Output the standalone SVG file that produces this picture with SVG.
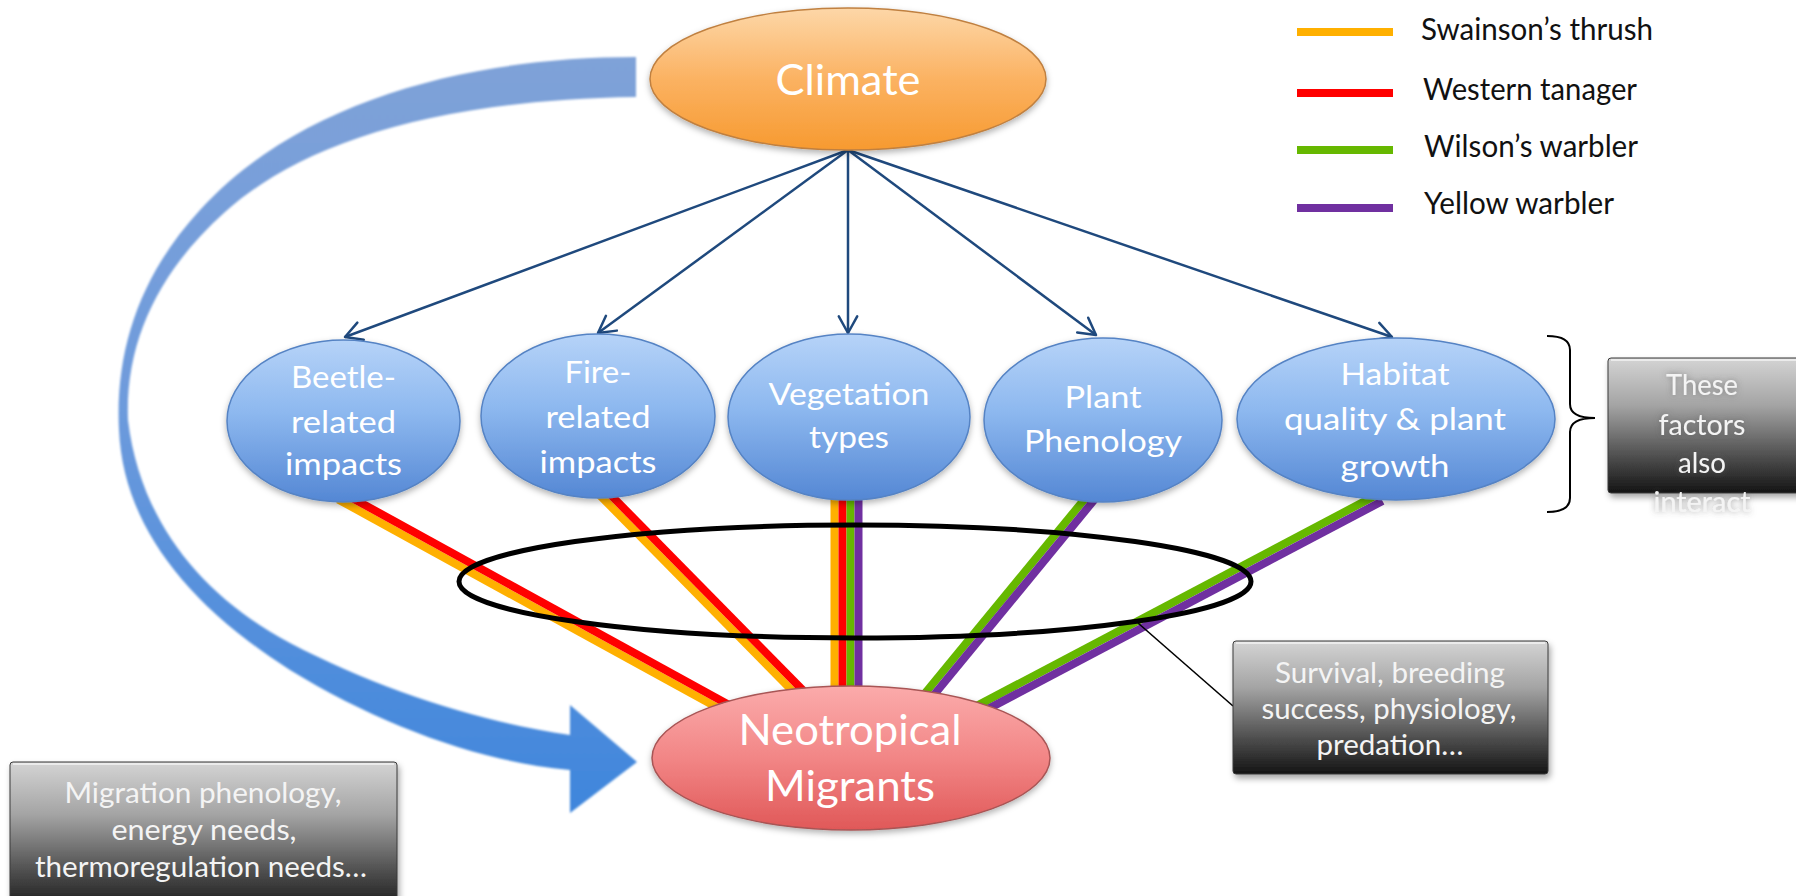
<svg xmlns="http://www.w3.org/2000/svg" width="1796" height="896" viewBox="0 0 1796 896">
  <style>
    text { font-family: Lato, "Open Sans", "Liberation Sans", sans-serif; }
    .nodeText { fill: #ffffff; font-size: 31px; text-anchor: middle; }
    .bigText { fill: #ffffff; font-size: 42px; text-anchor: middle; }
    .legendText { fill: #111111; font-size: 30px; }
    .boxText { fill: #f4f4f4; font-size: 28px; text-anchor: middle; }
    .blueNode { fill: url(#gBlue); stroke: #5583c4; stroke-width: 1.5; filter: url(#shadow); }
    .influence { stroke: #1f497d; stroke-width: 2.5; fill: none; marker-end: url(#openArrow); }
    .sp { stroke-width: 8; fill: none; stroke-linecap: butt; }
    .orange { stroke: #ffb000; }
    .red { stroke: #ff0000; }
    .green { stroke: #66b800; }
    .purple { stroke: #7030a0; }
    .greyBox { fill: url(#gGrey); stroke: #3a3a3a; stroke-width: 1; filter: url(#boxShadow); }
  </style>
  <defs>
    <linearGradient id="gBlue" x1="0" y1="0" x2="0" y2="1">
      <stop offset="0" stop-color="#b6d3f8"/>
      <stop offset="0.45" stop-color="#8db8ef"/>
      <stop offset="1" stop-color="#5487d4"/>
    </linearGradient>
    <linearGradient id="gOrange" x1="0" y1="0" x2="0" y2="1">
      <stop offset="0" stop-color="#fdd7a8"/>
      <stop offset="0.5" stop-color="#fbb262"/>
      <stop offset="1" stop-color="#f79a30"/>
    </linearGradient>
    <linearGradient id="gPink" x1="0" y1="0" x2="0" y2="1">
      <stop offset="0" stop-color="#fbabab"/>
      <stop offset="0.5" stop-color="#f28686"/>
      <stop offset="1" stop-color="#e05858"/>
    </linearGradient>
    <linearGradient id="gGrey" x1="0" y1="0" x2="0" y2="1">
      <stop offset="0" stop-color="#d4d4d4"/>
      <stop offset="0.35" stop-color="#a4a4a4"/>
      <stop offset="0.75" stop-color="#4a4a4a"/>
      <stop offset="1" stop-color="#141414"/>
    </linearGradient>
    <linearGradient id="gSweep" gradientUnits="userSpaceOnUse" x1="0" y1="57" x2="0" y2="813">
      <stop offset="0" stop-color="#7fa2d8"/>
      <stop offset="0.45" stop-color="#6e9bdc"/>
      <stop offset="1" stop-color="#3f86dc"/>
    </linearGradient>
    <filter id="shadow" x="-10%" y="-10%" width="120%" height="130%">
      <feDropShadow dx="0" dy="3" stdDeviation="3" flood-color="#000" flood-opacity="0.3"/>
    </filter>
    <filter id="boxShadow" x="-5%" y="-5%" width="115%" height="125%">
      <feDropShadow dx="2" dy="4" stdDeviation="3" flood-color="#000" flood-opacity="0.35"/>
    </filter>
    <filter id="soft" x="-5%" y="-5%" width="110%" height="110%">
      <feGaussianBlur stdDeviation="1.2"/>
    </filter>
    <filter id="textGlow" x="-20%" y="-40%" width="140%" height="180%">
      <feGaussianBlur in="SourceAlpha" stdDeviation="3" result="b"/>
      <feFlood flood-color="#555555" flood-opacity="0.6"/>
      <feComposite in2="b" operator="in" result="g"/>
      <feMerge><feMergeNode in="g"/><feMergeNode in="SourceGraphic"/></feMerge>
    </filter>
    <marker id="openArrow" viewBox="0 0 22 22" refX="20" refY="11" markerWidth="22" markerHeight="22" markerUnits="userSpaceOnUse" orient="auto">
      <path d="M3.4,1.8 L20,11 L3.4,20.2" fill="none" stroke="#1f497d" stroke-width="2.5" stroke-linecap="round" stroke-linejoin="round"/>
    </marker>
  </defs>

  <rect width="1796" height="896" fill="#ffffff"/>

  <!-- big curved arrow from climate round to the migrants -->
  <g id="sweep-arrow">
    <path filter="url(#soft)" fill="url(#gSweep)" d="M636,57 C470,57 300,100 200,210 C140,275 115,350 119,430 C123,520 180,600 290,670 C380,725 480,762 570,770 L570,813 L637,762 L570,705 L570,735 C480,722 380,690 290,643 C200,595 140,520 128,420 C125,340 160,270 225,212 C300,145 430,100 636,97 Z"/>
  </g>

  <!-- legend -->
  <g id="legend">
    <line class="sp orange" x1="1297" y1="32" x2="1393" y2="32"/>
    <line class="sp red" x1="1297" y1="93" x2="1393" y2="93"/>
    <line class="sp green" x1="1297" y1="150" x2="1393" y2="150"/>
    <line class="sp purple" x1="1297" y1="208" x2="1393" y2="208"/>
    <text class="legendText" x="1421" y="40" textLength="232" lengthAdjust="spacingAndGlyphs">Swainson’s thrush</text>
    <text class="legendText" x="1423" y="100" textLength="214" lengthAdjust="spacingAndGlyphs">Western tanager</text>
    <text class="legendText" x="1424" y="157" textLength="214" lengthAdjust="spacingAndGlyphs">Wilson’s warbler</text>
    <text class="legendText" x="1424" y="214" textLength="190" lengthAdjust="spacingAndGlyphs">Yellow warbler</text>
  </g>

  <!-- connectors -->
  <g id="connectors">
    <!-- climate influences -->
    <line class="influence" x1="848" y1="150" x2="345" y2="337"/>
    <line class="influence" x1="848" y1="150" x2="598" y2="333"/>
    <line class="influence" x1="848" y1="150" x2="848" y2="333"/>
    <line class="influence" x1="848" y1="150" x2="1096" y2="335"/>
    <line class="influence" x1="848" y1="150" x2="1392" y2="337"/>
    <!-- species links: beetle -->
    <line class="sp orange" x1="338.1" y1="499.4" x2="738.1" y2="719.1"/>
    <line class="sp red" x1="341.9" y1="492.4" x2="741.9" y2="712.1"/>
    <!-- fire -->
    <line class="sp orange" x1="598.7" y1="494.1" x2="804.7" y2="703.5"/>
    <line class="sp red" x1="604.4" y1="488.5" x2="810.4" y2="697.9"/>
    <!-- vegetation -->
    <line class="sp orange" x1="834.5" y1="490" x2="834.5" y2="700"/>
    <line class="sp red" x1="842.5" y1="490" x2="842.5" y2="700"/>
    <line class="sp green" x1="850.5" y1="490" x2="850.5" y2="700"/>
    <line class="sp purple" x1="858.5" y1="490" x2="858.5" y2="700"/>
    <!-- phenology -->
    <line class="sp green" x1="1093.5" y1="488.2" x2="921.3" y2="697.8"/>
    <line class="sp purple" x1="1099.7" y1="493.2" x2="927.5" y2="702.8"/>
    <!-- habitat -->
    <line class="sp green" x1="1378.7" y1="493.9" x2="972.5" y2="708.1"/>
    <line class="sp purple" x1="1382.5" y1="501.0" x2="976.3" y2="715.1"/>
    <!-- grouping ring and its callout -->
    <ellipse cx="855" cy="581.5" rx="396" ry="56.5" fill="none" stroke="#000" stroke-width="5"/>
    <line x1="1138" y1="623" x2="1233" y2="706" stroke="#000" stroke-width="1.6"/>
    <!-- brace -->
    <path d="M1547,336 Q1570,336 1570,350 L1570,404 Q1570,418 1595,418 Q1570,418 1570,432 L1570,498 Q1570,512 1547,512" fill="none" stroke="#000" stroke-width="2"/>
  </g>

  <!-- nodes -->
  <g id="climate">
    <ellipse cx="848" cy="79" rx="198" ry="71" fill="url(#gOrange)" stroke="#c08040" stroke-width="1.5" filter="url(#shadow)"/>
    <text class="bigText" x="848" y="95" textLength="145" lengthAdjust="spacingAndGlyphs">Climate</text>
  </g>

  <g id="beetle">
    <ellipse class="blueNode" cx="343.5" cy="421" rx="116.5" ry="81"/>
    <text class="nodeText" x="343.5" y="388" textLength="105" lengthAdjust="spacingAndGlyphs">Beetle-</text>
    <text class="nodeText" x="343.5" y="433" textLength="105" lengthAdjust="spacingAndGlyphs">related</text>
    <text class="nodeText" x="343.5" y="475" textLength="117" lengthAdjust="spacingAndGlyphs">impacts</text>
  </g>

  <g id="fire">
    <ellipse class="blueNode" cx="598" cy="416" rx="117" ry="82"/>
    <text class="nodeText" x="598" y="383" textLength="67" lengthAdjust="spacingAndGlyphs">Fire-</text>
    <text class="nodeText" x="598" y="428" textLength="105" lengthAdjust="spacingAndGlyphs">related</text>
    <text class="nodeText" x="598" y="473" textLength="117" lengthAdjust="spacingAndGlyphs">impacts</text>
  </g>

  <g id="vegetation">
    <ellipse class="blueNode" cx="849" cy="417" rx="121" ry="83"/>
    <text class="nodeText" x="849" y="405" textLength="161" lengthAdjust="spacingAndGlyphs">Vegetation</text>
    <text class="nodeText" x="849" y="448" textLength="80" lengthAdjust="spacingAndGlyphs">types</text>
  </g>

  <g id="phenology">
    <ellipse class="blueNode" cx="1103" cy="420" rx="119" ry="82"/>
    <text class="nodeText" x="1103" y="408" textLength="77" lengthAdjust="spacingAndGlyphs">Plant</text>
    <text class="nodeText" x="1103" y="452" textLength="158" lengthAdjust="spacingAndGlyphs">Phenology</text>
  </g>

  <g id="habitat">
    <ellipse class="blueNode" cx="1396" cy="419" rx="159" ry="81"/>
    <text class="nodeText" x="1395" y="385" textLength="109" lengthAdjust="spacingAndGlyphs">Habitat</text>
    <text class="nodeText" x="1395" y="430" textLength="222" lengthAdjust="spacingAndGlyphs">quality &amp; plant</text>
    <text class="nodeText" x="1395" y="477" textLength="109" lengthAdjust="spacingAndGlyphs">growth</text>
  </g>

  <g id="migrants">
    <ellipse cx="851" cy="758" rx="199" ry="72" fill="url(#gPink)" stroke="#a85555" stroke-width="1.5" filter="url(#shadow)"/>
    <text class="bigText" x="850" y="745" textLength="223" lengthAdjust="spacingAndGlyphs">Neotropical</text>
    <text class="bigText" x="850" y="801" textLength="170" lengthAdjust="spacingAndGlyphs">Migrants</text>
  </g>

  <g id="interact-note">
    <rect class="greyBox" x="1608" y="358" width="194" height="135" rx="3"/>
    <line x1="1611" y1="360" x2="1796" y2="360" stroke="#f2f2f2" stroke-width="2" opacity="0.8"/>
    <g filter="url(#textGlow)">
      <text class="boxText" x="1702" y="395" textLength="72" lengthAdjust="spacingAndGlyphs">These</text>
      <text class="boxText" x="1702" y="435" textLength="87" lengthAdjust="spacingAndGlyphs">factors</text>
      <text class="boxText" x="1702" y="473" textLength="48" lengthAdjust="spacingAndGlyphs">also</text>
      <text class="boxText" x="1702" y="512" textLength="97" lengthAdjust="spacingAndGlyphs">interact</text>
    </g>
  </g>

  <g id="demography-note">
    <rect class="greyBox" x="1233" y="641" width="315" height="133" rx="3"/>
    <line x1="1236" y1="643" x2="1545" y2="643" stroke="#f2f2f2" stroke-width="2" opacity="0.8"/>
    <text class="boxText" x="1390" y="683" textLength="230" lengthAdjust="spacingAndGlyphs">Survival, breeding</text>
    <text class="boxText" x="1389" y="719" textLength="255" lengthAdjust="spacingAndGlyphs">success, physiology,</text>
    <text class="boxText" x="1390" y="755" textLength="147" lengthAdjust="spacingAndGlyphs">predation…</text>
  </g>

  <g id="migration-note">
    <rect class="greyBox" x="10" y="762" width="387" height="150" rx="3"/>
    <line x1="13" y1="764" x2="394" y2="764" stroke="#f2f2f2" stroke-width="2" opacity="0.8"/>
    <text class="boxText" x="203" y="803" textLength="277" lengthAdjust="spacingAndGlyphs">Migration phenology,</text>
    <text class="boxText" x="204" y="840" textLength="185" lengthAdjust="spacingAndGlyphs">energy needs,</text>
    <text class="boxText" x="201" y="877" textLength="332" lengthAdjust="spacingAndGlyphs">thermoregulation needs…</text>
  </g>
</svg>
